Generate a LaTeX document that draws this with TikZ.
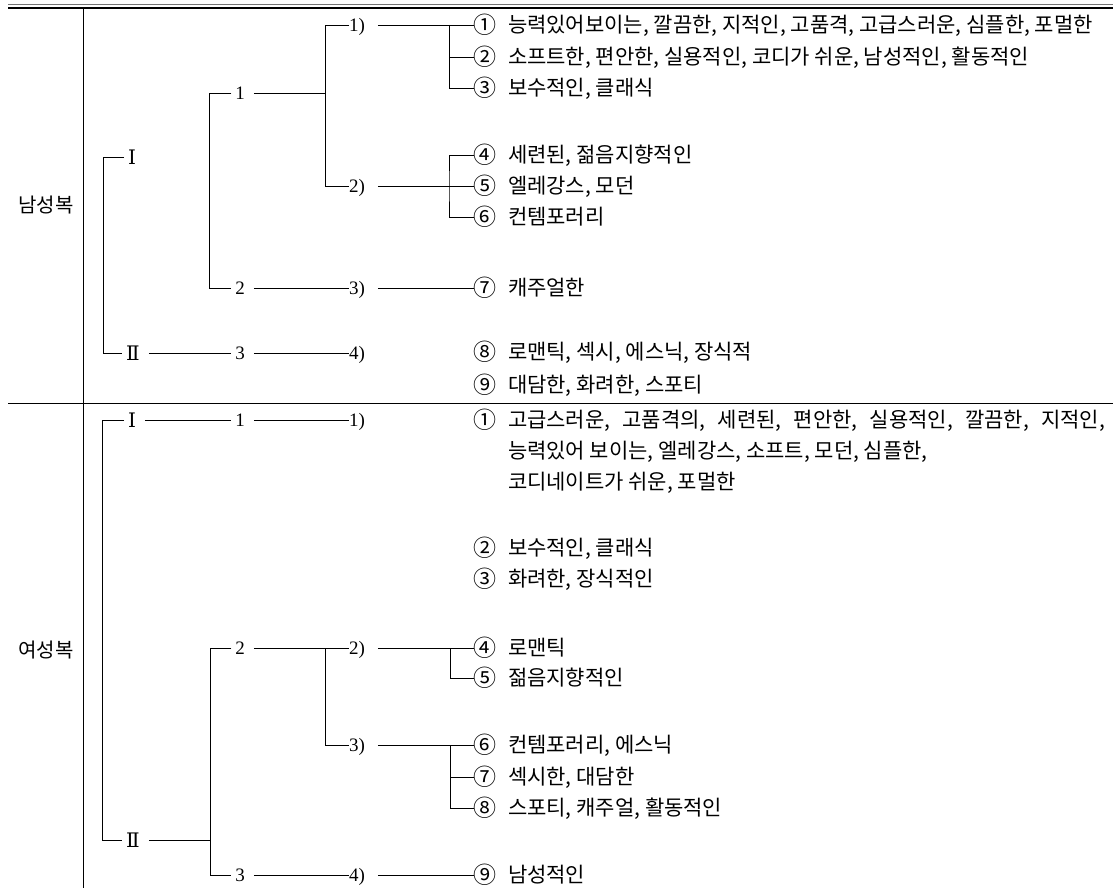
\documentclass[tikz,border=0pt]{standalone}
\usepackage{fontspec}
\setmainfont{Liberation Serif}
\newfontfamily\kr{Noto Sans CJK KR}
\newfontfamily\romf{DejaVu Serif}
\newcommand\kleaf[4]{%
  \node[cn] (#1) at (485,#2) {#3};
  \node[tx] (#1t) at (508,#2) {#4};}
\begin{document}
\begin{tikzpicture}[x=1pt,y=-1pt,
  every node/.style={inner sep=0pt, outer sep=0pt},
  num/.style={font=\fontsize{19}{19}\selectfont, inner xsep=4pt, text height=12.5pt, text depth=0pt},
  rom/.style={font=\romf\fontsize{20}{20}\selectfont, inner xsep=4pt, text height=14.6pt, text depth=0pt},
  par/.style={font=\fontsize{19}{19}\selectfont, text height=12.5pt, text depth=0pt},
  cn/.style={font=\kr\fontsize{23}{23}\selectfont, text height=17pt, text depth=0pt},
  tx/.style={font=\kr\fontsize{21}{21}\selectfont, anchor=west, text height=17pt, text depth=1.5pt},
  cat/.style={font=\kr\fontsize{20}{20}\selectfont},
  ln/.style={line width=0.7pt},
  gap/.style={ln, shorten <=5pt},
  pgap/.style={ln, shorten <=13pt},
  rule/.style={line width=0.8pt}
]
\useasboundingbox (0,0) rectangle (1113,888);
% frame rules
\draw[line width=0.6pt, black!55] (8,4.5) -- (1113,4.5);
\draw[line width=1.2pt] (8,8) -- (1113,8);
\draw[rule] (83,8) -- (83,888);
\draw[rule] (8,403) -- (1113,403);

% ---------- upper: 남성복 ----------
\node[cat] (men) at (46,205) {남성복};
\node[rom] (uI) at (132,157) {Ⅰ};
\node[rom] (uII) at (133,353) {Ⅱ};
\node[num] (u1) at (240,93) {1};
\node[num] (u2) at (240,288) {2};
\node[num] (u3) at (240,353) {3};
\node[par] (up1) at (357,25) {1)};
\node[par] (up2) at (357,186) {2)};
\node[par] (up3) at (357,288) {3)};
\node[par] (up4) at (357,353) {4)};
\kleaf{ua}{25}{①}{능력있어보이는, 깔끔한, 지적인, 고품격, 고급스러운, 심플한, 포멀한}
\kleaf{ub}{57}{②}{소프트한, 편안한, 실용적인, 코디가 쉬운, 남성적인, 활동적인}
\kleaf{uc}{88}{③}{보수적인, 클래식}
\kleaf{ud}{155}{④}{세련된, 젊음지향적인}
\kleaf{ue}{186}{⑤}{엘레강스, 모던}
\kleaf{uf}{217}{⑥}{컨템포러리}
\kleaf{ug}{288}{⑦}{캐주얼한}
\kleaf{uh}{352}{⑧}{로맨틱, 섹시, 에스닉, 장식적}
\kleaf{ui}{385}{⑨}{대담한, 화려한, 스포티}
\coordinate (uA) at (103,353);
\coordinate (uB) at (209,288);
\coordinate (uC) at (325,186);
\coordinate (uD) at (449,88);
\coordinate (uE) at (449,186);
\draw[ln] (uI.west) -| (uA) -- (uII.west);
\draw[ln] (u1.west) -| (uB) -- (u2.west);
\draw[ln] (up1.west) -| (uC) -- (up2.west);
\draw[gap] (u1.east) -- (u1.east -| uC);
\draw[gap] (u2.east) -- (up3.west);
\draw[gap] (uII.east) -- (u3.west);
\draw[gap] (u3.east) -- (up4.west);
\draw[pgap] (up1.east) -- (ua.west);
\draw[ln] (ua.west -| uD) |- (uc.west);
\draw[ln] (ub.west -| uD) -- (ub.west);
\draw[pgap] (up2.east) -- (ue.west);
\draw[ln] (ud.west) -| (uE) |- (uf.west);
\draw[pgap] (up3.east) -- (ug.west);

% ---------- lower: 여성복 ----------
\node[cat] (women) at (46,650) {여성복};
\node[rom] (lI) at (132,420) {Ⅰ};
\node[rom] (lII) at (133,840) {Ⅱ};
\node[num] (l1) at (240,420) {1};
\node[num] (l2) at (240,648) {2};
\node[num] (l3) at (240,875) {3};
\node[par] (lp1) at (357,420) {1)};
\node[par] (lp2) at (357,648) {2)};
\node[par] (lp3) at (357,745) {3)};
\node[par] (lp4) at (357,875) {4)};
\kleaf{la}{420}{①}{\makebox[597pt][s]{고급스러운, 고품격의, 세련된, 편안한, 실용적인, 깔끔한, 지적인,}}
\node[tx] (la2) at (508,451) {능력있어 보이는, 엘레강스, 소프트, 모던, 심플한,};
\node[tx] (la3) at (508,482) {코디네이트가 쉬운, 포멀한};
\kleaf{lb}{548}{②}{보수적인, 클래식}
\kleaf{lc}{579}{③}{화려한, 장식적인}
\kleaf{ld}{648}{④}{로맨틱}
\kleaf{le}{678}{⑤}{젊음지향적인}
\kleaf{lf}{745}{⑥}{컨템포러리, 에스닉}
\kleaf{lg}{777}{⑦}{섹시한, 대담한}
\kleaf{lh}{808}{⑧}{스포티, 캐주얼, 활동적인}
\kleaf{li}{875}{⑨}{남성적인}
\coordinate (lA) at (102,840);
\coordinate (lB) at (210,875);
\coordinate (lC) at (325,745);
\coordinate (lD) at (450,678);
\coordinate (lE) at (450,808);
\draw[ln] (lI.west) -| (lA) -- (lII.west);
\draw[gap] (lI.east) -- (l1.west);
\draw[gap] (l1.east) -- (lp1.west);
\draw[gap] (lII.east) -- (lII.east -| lB);
\draw[ln] (l2.west) -| (lB) -- (l3.west);
\draw[gap] (l2.east) -- (lp2.west);
\draw[ln] (lp2.west -| lC) |- (lp3.west);
\draw[gap] (l3.east) -- (lp4.west);
\draw[pgap] (lp2.east) -- (ld.west);
\draw[ln] (ld.west -| lD) |- (le.west);
\draw[pgap] (lp3.east) -- (lf.west);
\draw[ln] (lf.west -| lE) |- (lh.west);
\draw[ln] (lg.west -| lE) -- (lg.west);
\draw[pgap] (lp4.east) -- (li.west);
\end{tikzpicture}
\end{document}
